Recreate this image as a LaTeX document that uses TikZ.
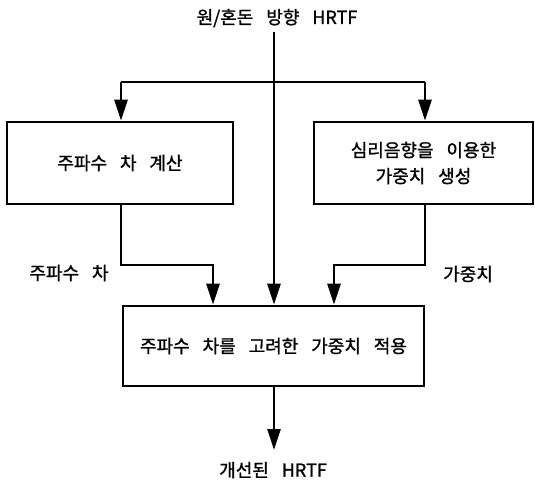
\documentclass[tikz,border=0pt]{standalone}
\usepackage{fontspec}
\newfontfamily\kr[WordSpace=3.2,FakeBold=1.2]{Noto Sans CJK KR}
\usetikzlibrary{arrows.meta}
\begin{document}
\begin{tikzpicture}[x=1pt,y=-1pt,
  lw/.style={line width=2.6pt},
  box/.style={draw,lw,minimum width=#1,inner sep=0pt,align=center,font=\kr\fontsize{18}{26}\selectfont},
  lbl/.style={inner sep=0pt,font=\kr\fontsize{18}{26}\selectfont},
  arr/.style={lw,-{Triangle[length=21pt,width=13pt]}}]
\useasboundingbox (0,0) rectangle (535,490);
\node[lbl] (title) at (277,18) {원/혼돈 방향 HRTF};
\node[box=226pt,minimum height=82pt] (lbox) at (120,163) {주파수 차 계산};
\node[box=219pt,minimum height=82pt] (rbox) at (423.5,163) {심리음향을 이용한\\가중치 생성};
\node[box=301pt,minimum height=80pt] (bbox) at (273.5,346) {주파수 차를 고려한 가중치 적용};
\node[lbl] (lfreq) at (69,273) {주파수 차};
\node[lbl] (lwt) at (468,274) {가중치};
\node[lbl] (out) at (273,470) {개선된 HRTF};
\coordinate (top) at (274,32);
\coordinate (bl) at (121,82);
\coordinate (br) at (425,82);
\coordinate (le) at (121,265);
\coordinate (lk) at (213,265);
\coordinate (re) at (425,265);
\coordinate (rk) at (334,265);
\coordinate (tip) at (274,450);
\draw[lw] (bl) -- (br);
\draw[arr] (bl) -- (bl |- lbox.north);
\draw[arr] (br) -- (br |- rbox.north);
\draw[arr] (top) -- (top |- bbox.north);
\draw[arr] (le |- lbox.south) -- (le) -- (lk) -- (lk |- bbox.north);
\draw[arr] (re |- rbox.south) -- (re) -- (rk) -- (rk |- bbox.north);
\draw[arr] (bbox.south -| tip) -- (tip);
\end{tikzpicture}
\end{document}
